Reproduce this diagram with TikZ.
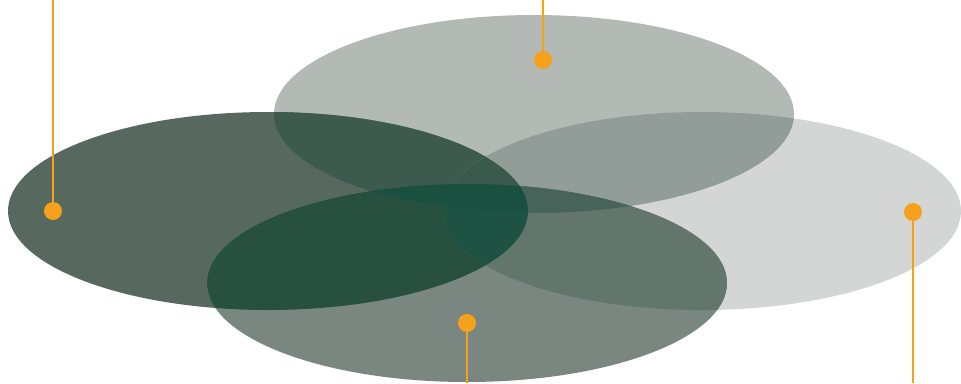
\documentclass[tikz,border=0pt]{standalone}
\usepackage{tikz}
\usepackage{xcolor}
\usetikzlibrary{positioning}

\definecolor{accent}{HTML}{F5A11C}
\definecolor{clrL}{HTML}{57695F}
\definecolor{clrT}{HTML}{B3BAB6}
\definecolor{clrR}{HTML}{D4D6D5}
\definecolor{clrB}{HTML}{7A8781}
\definecolor{clrLT}{HTML}{3D5A4E}
\definecolor{clrLB}{HTML}{27503F}
\definecolor{clrLR}{HTML}{2E5447}
\definecolor{clrTR}{HTML}{929C98}
\definecolor{clrTB}{HTML}{4A665B}
\definecolor{clrBR}{HTML}{62766C}
\definecolor{clrLTB}{HTML}{1B4F3F}
\definecolor{clrLTR}{HTML}{3B5A4E}
\definecolor{clrLBR}{HTML}{1E5242}
\definecolor{clrTBR}{HTML}{47635A}
\definecolor{clrLTBR}{HTML}{1A5040}

% the four ellipses
\newcommand{\ellL}{(268,211) ellipse [x radius=260, y radius=99]}
\newcommand{\ellT}{(534,114) ellipse [x radius=260, y radius=99]}
\newcommand{\ellR}{(702,211) ellipse [x radius=259, y radius=99]}
\newcommand{\ellB}{(467,283) ellipse [x radius=260, y radius=99]}

\tikzset{
    dot/.style={circle, fill=accent, inner sep=0pt, minimum size=18pt},
    lead/.style={accent, line width=2.5pt}
}

\begin{document}
\begin{tikzpicture}[x=1pt,y=-1pt]
    \useasboundingbox (0,0) rectangle (961,383);

        % single areas
        \fill[clrR] \ellR;
        \fill[clrT] \ellT;
        \fill[clrL] \ellL;
        \fill[clrB] \ellB;

        % two at once
        \begin{scope}\clip \ellL; \fill[clrLT] \ellT; \end{scope}
        \begin{scope}\clip \ellL; \fill[clrLB] \ellB; \end{scope}
        \begin{scope}\clip \ellL; \fill[clrLR] \ellR; \end{scope}
        \begin{scope}\clip \ellT; \fill[clrTR] \ellR; \end{scope}
        \begin{scope}\clip \ellT; \fill[clrTB] \ellB; \end{scope}
        \begin{scope}\clip \ellB; \fill[clrBR] \ellR; \end{scope}

        % three at once
        \begin{scope}\clip \ellL; \clip \ellT; \fill[clrLTB] \ellB; \end{scope}
        \begin{scope}\clip \ellL; \clip \ellT; \fill[clrLTR] \ellR; \end{scope}
        \begin{scope}\clip \ellL; \clip \ellB; \fill[clrLBR] \ellR; \end{scope}
        \begin{scope}\clip \ellT; \clip \ellB; \fill[clrTBR] \ellR; \end{scope}

        % all four
        \begin{scope}\clip \ellL; \clip \ellT; \clip \ellB; \fill[clrLTBR] \ellR; \end{scope}

        % markers
        \node[dot] (dotL) at (53,211) {};
        \node[dot] (dotT) at (543,60) {};
        \node[dot] (dotB) at (467,323) {};
        \node[dot] (dotR) at (913,212) {};

        \coordinate (endL) at (53,0);
        \coordinate (endT) at (543,0);
        \coordinate (endB) at (467,383);
        \coordinate (endR) at (913,383);

        \draw[lead] (dotL) -- (endL);
        \draw[lead] (dotT) -- (endT);
        \draw[lead] (dotB) -- (endB);
        \draw[lead] (dotR) -- (endR);

\end{tikzpicture}
\end{document}
